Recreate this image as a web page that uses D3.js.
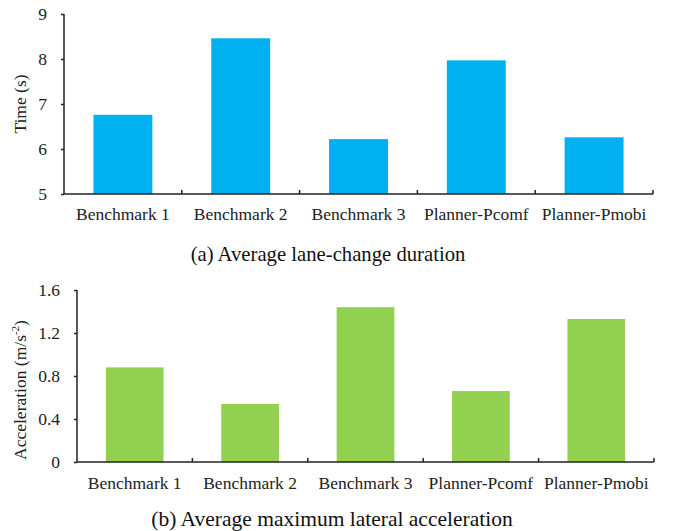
<!DOCTYPE html>
<html>
<head>
<meta charset="utf-8">
<script src="https://cdn.jsdelivr.net/npm/d3@7"></script>
<style>
  html, body { margin: 0; padding: 0; background: #fff; }
  svg text { font-family: "Liberation Serif", "Times New Roman", serif; fill: #222; }
</style>
</head>
<body>
<svg id="chart" width="678" height="531"></svg>
<script>
// Categories shared by both panels
const categories = ["Benchmark 1", "Benchmark 2", "Benchmark 3", "Planner-Pcomf", "Planner-Pmobi"];

// (a) Average lane-change duration, seconds
const durationValues = [6.76, 8.46, 6.22, 7.97, 6.26];
const durationTicks = [5, 6, 7, 8, 9];

// (b) Average maximum lateral acceleration, m/s^2
const accelValues = [0.88, 0.54, 1.44, 0.66, 1.33];
const accelTicks = [0, 0.4, 0.8, 1.2, 1.6];

const svg = d3.select("#chart");
const FS = 17.5;

function panel(opts) {
  const g = svg.append("g");
  const x = d3.scaleBand().domain(categories).range([opts.left, opts.right]).paddingInner(0.5).paddingOuter(0.25);
  const y = d3.scaleLinear().domain(opts.domain).range([opts.bottom, opts.top]);

  // bars
  g.selectAll("rect.bar").data(opts.values).join("rect")
    .attr("class", "bar")
    .attr("x", (d, i) => x(categories[i]))
    .attr("width", x.bandwidth())
    .attr("y", d => y(d))
    .attr("height", d => y(opts.domain[0]) - y(d))
    .attr("fill", opts.color);

  // y axis
  const yAxis = d3.axisLeft(y).tickValues(opts.ticks).tickSize(3).tickPadding(14)
    .tickFormat(opts.fmt);
  const ya = g.append("g").attr("transform", `translate(${opts.left},0)`).call(yAxis);
  ya.attr("font-family", null);
  ya.select(".domain").attr("stroke", "#222").attr("stroke-width", 1.5).attr("d", `M0,${opts.top}V${opts.bottom}`);
  ya.selectAll(".tick line").attr("stroke", "#222").attr("stroke-width", 1.5);
  ya.selectAll(".tick text").attr("font-size", FS).attr("fill", "#222");

  // x axis with category boundary ticks pointing up
  const xa = g.append("g").attr("transform", `translate(0,${opts.bottom})`);
  xa.append("line").attr("x1", opts.left).attr("x2", opts.right).attr("stroke", "#222").attr("stroke-width", 1.5);
  const step = x.step();
  const bounds = categories.map(c => x(c) - step * x.paddingInner() / 2 + step);
  xa.selectAll("line.tk").data(bounds).join("line").attr("class", "tk")
    .attr("x1", d => d).attr("x2", d => d).attr("y1", 0).attr("y2", -4)
    .attr("stroke", "#222").attr("stroke-width", 1.5);
  xa.selectAll("text.cat").data(categories).join("text").attr("class", "cat")
    .attr("x", d => x(d) + x.bandwidth() / 2)
    .attr("y", opts.labelY - opts.bottom)
    .attr("text-anchor", "middle")
    .attr("font-size", FS)
    .text(d => d);

  // y title
  const t = g.append("text")
    .attr("transform", `translate(${opts.titleX},${opts.titleY}) rotate(-90)`)
    .attr("text-anchor", "middle")
    .attr("font-size", FS);
  opts.title(t);

  // caption
  g.append("text").attr("x", opts.capX).attr("y", opts.capY)
    .attr("text-anchor", "middle").attr("font-size", opts.capSize).style("fill", "#111")
    .text(opts.caption);
}

panel({
  left: 64, right: 653, top: 14, bottom: 194,
  domain: [5, 9], ticks: durationTicks, values: durationValues, fmt: d3.format("d"),
  color: "#00B0F0", labelY: 220,
  titleX: 26, titleY: 104,
  title: t => t.text("Time (s)"),
  capX: 328, capY: 261, capSize: 20.7, caption: "(a) Average lane-change duration"
});

panel({
  left: 77, right: 654, top: 290, bottom: 462,
  domain: [0, 1.6], ticks: accelTicks, values: accelValues, fmt: d => d === 0 ? "0" : d3.format(".1f")(d),
  color: "#92D050", labelY: 489,
  titleX: 26, titleY: 390,
  title: t => {
    t.append("tspan").text("Acceleration (m/s");
    t.append("tspan").attr("font-size", 11).attr("dy", -7).text("-2");
    t.append("tspan").attr("dy", 7).text(")");
  },
  capX: 332, capY: 526, capSize: 21.5, caption: "(b) Average maximum lateral acceleration"
});
</script>
</body>
</html>
